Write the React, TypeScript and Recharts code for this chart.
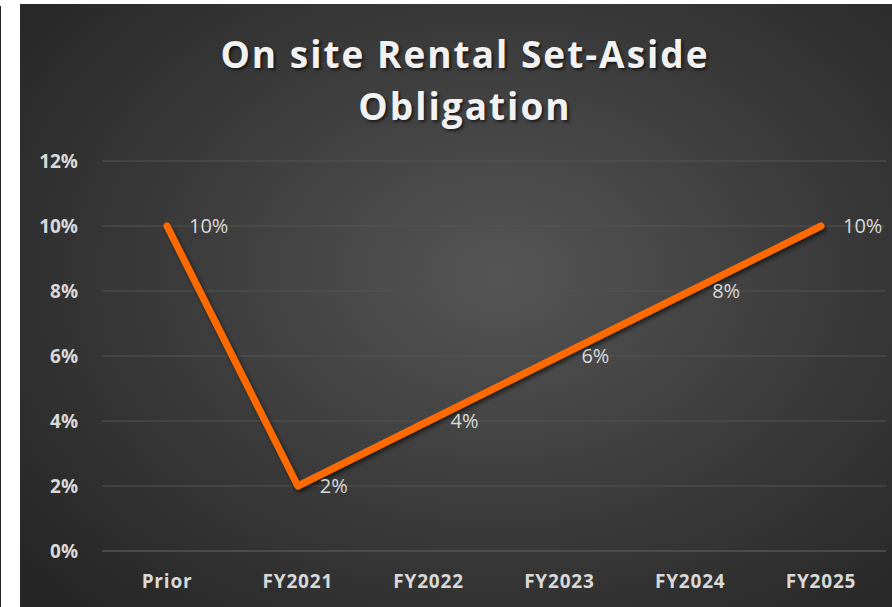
import { LineChart, Line, XAxis, YAxis, CartesianGrid, LabelList } from "recharts";

const categories = ["Prior", "FY2021", "FY2022", "FY2023", "FY2024", "FY2025"];
const obligation = [0.1, 0.02, 0.04, 0.06, 0.08, 0.1];
const yTicks = [0, 0.02, 0.04, 0.06, 0.08, 0.1, 0.12];

const data = categories.map((name, i) => ({ name, value: obligation[i] }));

const pct = (v: number) => `${Math.round(v * 100)}%`;

export default function App() {
  return (
    <div style={{ position: "absolute", left: 0, top: 0, width: 892, height: 607, background: "#fff", overflow: "hidden" }}>
      <div style={{ position: "absolute", left: 0, top: 6, width: 1, height: 601, background: "#222" }} />
      <div
        style={{
          position: "absolute",
          left: 20,
          top: 4,
          width: 872,
          height: 603,
          background: "radial-gradient(ellipse 70% 75% at 55% 45%, #555555 0%, #3a3a3a 55%, #262626 100%)",
        }}
      >
        <div
          style={{
            position: "absolute",
            left: 0,
            top: 24,
            width: 890,
            textAlign: "center",
            color: "#f2f2f2",
            fontFamily: "'Open Sans', sans-serif",
            fontWeight: 700,
            fontSize: 37,
            lineHeight: "52px",
            letterSpacing: 2,
            textShadow: "2px 2px 3px rgba(0,0,0,0.6)",
          }}
        >
          On site Rental Set-Aside
          <br />
          Obligation
        </div>
        <LineChart width={872} height={603} data={data} margin={{ top: 157, right: 6, bottom: 16, left: 0 }}>
          <defs>
            <filter id="lineShadow" x="-10%" y="-10%" width="120%" height="120%">
              <feDropShadow dx="2" dy="3" stdDeviation="2" floodColor="#000" floodOpacity="0.55" />
            </filter>
          </defs>
          <CartesianGrid vertical={false} stroke="#555555" strokeWidth={1} />
          <XAxis
            dataKey="name"
            padding={{ left: 65, right: 65 }}
            axisLine={{ stroke: "#555555" }}
            tickLine={false}
            tickSize={0}
            tickMargin={24}
            height={40}
            tick={{ fill: "#d9d9d9", fontSize: 19, fontWeight: 700, letterSpacing: 0.8, fontFamily: "'Open Sans', sans-serif" }}
          />
          <YAxis
            domain={[0, 0.12]}
            ticks={yTicks}
            tickFormatter={pct}
            axisLine={false}
            tickLine={false}
            tickSize={0}
            tickMargin={24}
            width={82}
            tick={{ fill: "#d9d9d9", fontSize: 19, fontWeight: 700, fontFamily: "'Open Sans', sans-serif" }}
          />
          <Line
            type="linear"
            dataKey="value"
            stroke="#ff6a00"
            strokeWidth={7}
            strokeLinecap="round"
            strokeLinejoin="round"
            dot={false}
            activeDot={false}
            filter="url(#lineShadow)"
            isAnimationActive={false}
          >
            <LabelList
              dataKey="value"
              position="right"
              offset={22}
              formatter={(v: any) => pct(Number(v))}
              style={{ fill: "#d9d9d9", fontSize: 20, fontFamily: "'Open Sans', sans-serif" }}
            />
          </Line>
        </LineChart>
      </div>
    </div>
  );
}
